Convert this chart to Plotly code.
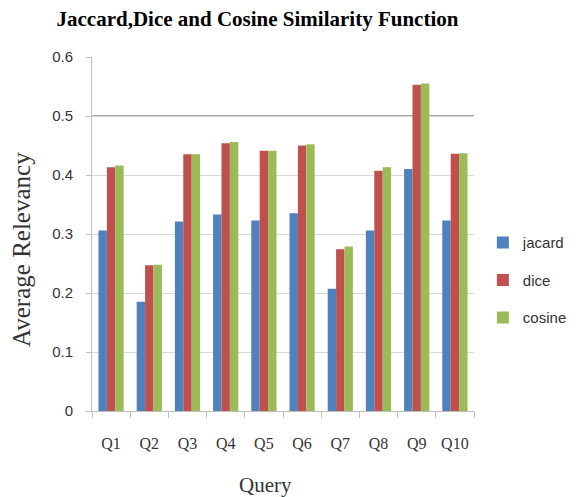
import plotly.graph_objects as go

queries = ["Q1", "Q2", "Q3", "Q4", "Q5", "Q6", "Q7", "Q8", "Q9", "Q10"]
jacard = [0.306, 0.185, 0.321, 0.333, 0.323, 0.335, 0.207, 0.306, 0.410, 0.323]
dice = [0.413, 0.247, 0.435, 0.454, 0.441, 0.450, 0.274, 0.407, 0.553, 0.436]
cosine = [0.416, 0.248, 0.435, 0.456, 0.441, 0.452, 0.279, 0.413, 0.555, 0.437]
y_ticks = [0, 0.1, 0.2, 0.3, 0.4, 0.5, 0.6]
y_tick_labels = ["0", "0.1", "0.2", "0.3", "0.4", "0.5", "0.6"]

series = [("jacard", jacard, "#4F81BD"), ("dice", dice, "#C0504D"), ("cosine", cosine, "#9BBB59")]

fig = go.Figure()
for name, vals, col in series:
    fig.add_trace(go.Bar(x=queries, y=vals, name=name, marker_color=col,
                         marker_line_width=0, legendgroup=name))

fig.add_shape(type="line", xref="paper", yref="y", x0=0, x1=1, y0=0.5, y1=0.5,
              line=dict(color="#868686", width=1.3), layer="below")

# axis titles as annotations (positioned like the reference)
fig.add_annotation(text="Average Relevancy", textangle=-90, xref="paper", yref="paper",
                   x=-0.184, y=0.457, xanchor="center", yanchor="middle", showarrow=False,
                   font=dict(family="Liberation Serif", size=25, color="#333333"))
fig.add_annotation(text="Query", xref="paper", yref="paper",
                   x=0.453, y=-0.21, xanchor="center", yanchor="middle", showarrow=False,
                   font=dict(family="Liberation Serif", size=21, color="#333333"))

fig.update_layout(
    width=576, height=497,
    margin=dict(l=84, r=104, t=49, b=94),
    paper_bgcolor="white", plot_bgcolor="white",
    barmode="group", bargap=0.34, bargroupgap=0,
    title=dict(text="<b>Jaccard,Dice and Cosine Similarity Function</b>",
               x=249.5/576, xanchor="center", y=1 - 11/497, yanchor="middle",
               font=dict(family="Liberation Serif", size=21, color="black")),
    font=dict(family="Liberation Sans", size=14, color="#333333"),
    legend=dict(x=(481 - 84) / 388, xanchor="left", y=0.3695, yanchor="middle",
                tracegroupgap=15, font=dict(size=15, color="#333333"),
                itemwidth=30, traceorder="grouped"),
    xaxis=dict(showline=True, linecolor="#BFBFBF", linewidth=1,
               ticks="outside", tickson="boundaries", ticklen=6, tickcolor="#BFBFBF",
               ticklabelstandoff=18, automargin=False, tickangle=0,
               showgrid=False, tickfont=dict(family="Liberation Serif", size=16, color="#333333")),
    yaxis=dict(range=[0, 0.6], tickvals=y_ticks, ticktext=y_tick_labels,
               showgrid=True, gridcolor="#D9D9D9", gridwidth=1,
               showline=True, linecolor="#BFBFBF", linewidth=1,
               ticks="outside", ticklen=5, tickcolor="#BFBFBF", ticklabelstandoff=10,
               automargin=False,
               tickfont=dict(size=15, color="#333333"), zeroline=False),
)

fig.write_html("out.html")
